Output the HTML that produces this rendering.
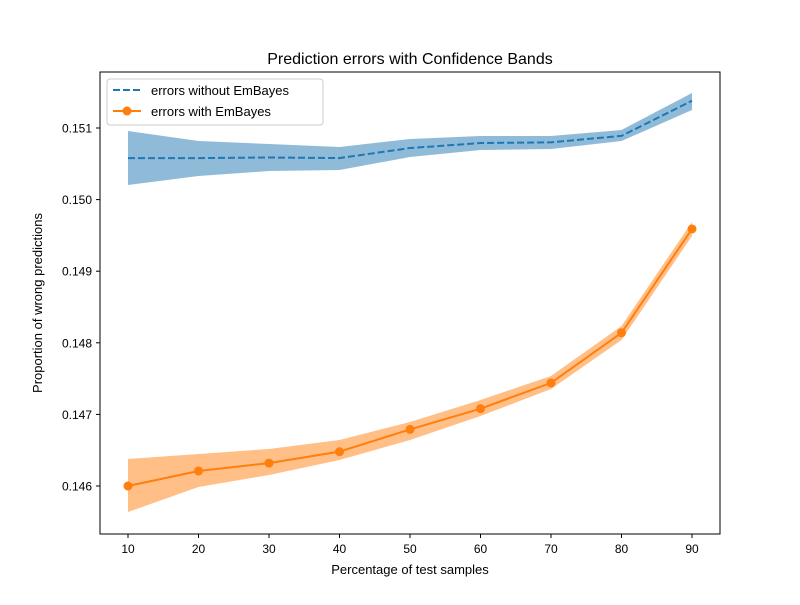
<!DOCTYPE html>
<html><head><meta charset="utf-8"><style>
body{margin:0;background:#fff}
svg text{font-family:"Liberation Sans","DejaVu Sans",sans-serif;fill:#000}
</style></head><body>
<svg id="chart" width="800" height="600" xmlns="http://www.w3.org/2000/svg">
<rect width="800" height="600" fill="#fff"/>
<text x="410" y="64" font-size="16" text-anchor="middle">Prediction errors with Confidence Bands</text>
<g id="plot"></g>
<rect x="100" y="72" width="620" height="462" fill="none" stroke="#000" stroke-width="1"/>
<g id="xticks"></g><g id="yticks"></g>
<text x="410" y="574" font-size="13" text-anchor="middle">Percentage of test samples</text>
<text x="0" y="0" font-size="13" text-anchor="middle" transform="translate(42,303) rotate(-90)">Proportion of wrong predictions</text>
<g>
<rect x="107" y="79" width="216" height="46" rx="3" fill="#fff" fill-opacity="0.8" stroke="#ccc"/>
<g>
<line x1="113" y1="90" x2="141" y2="90" stroke="#1f77b4" stroke-width="2" stroke-dasharray="7,3"/>
<text x="151" y="95" font-size="13">errors without EmBayes</text></g>
<g>
<line x1="113" y1="111" x2="141" y2="111" stroke="#ff7f0e" stroke-width="2"/>
<circle cx="127" cy="111" r="4.5" fill="#ff7f0e"/>
<text x="151" y="116" font-size="13">errors with EmBayes</text></g>
</g>
</svg>
<script>
const categories=[10,20,30,40,50,60,70,80,90];
const withoutMean=[0.15058,0.15058,0.150588,0.15058,0.15072,0.15079,0.1508,0.15089,0.15138];
const withoutUpper=[0.150958,0.150818,0.150777,0.150735,0.150846,0.150888,0.150888,0.150972,0.151489];
const withoutLower=[0.150204,0.15033,0.150399,0.150413,0.150595,0.150693,0.150707,0.150818,0.151251];
const withMean=[0.146,0.14621,0.14632,0.14648,0.14679,0.14708,0.14744,0.14814,0.14959];
const withUpper=[0.146377,0.146447,0.146517,0.146642,0.146894,0.147201,0.147536,0.148235,0.149687];
const withLower=[0.145637,0.145986,0.146154,0.146363,0.146642,0.146978,0.147355,0.148039,0.149492];
const xTickLabels=[10,20,30,40,50,60,70,80,90];
const yTickValues=[0.146,0.147,0.148,0.149,0.150,0.151];
const NS="http://www.w3.org/2000/svg";
const xs=v=>128+(v-10)*(692-128)/80;
const ys=v=>128+(0.151-v)/0.001*71.6;
function mk(t,a,p){const e=document.createElementNS(NS,t);for(const k in a)e.setAttribute(k,a[k]);p.appendChild(e);return e;}
const plot=document.getElementById('plot');
function band(up,lo,col,name){
 let d=categories.map((c,i)=>(i?'L':'M')+xs(c)+','+ys(up[i])).join('');
 for(let i=categories.length-1;i>=0;i--)d+='L'+xs(categories[i])+','+ys(lo[i]);
 const p=mk('path',{d:d+'Z',fill:col,'fill-opacity':0.5,stroke:'none'},plot);
 
 
}
band(withoutUpper,withoutLower,'#1f77b4','band-without');
band(withUpper,withLower,'#ff7f0e','band-with');
const l1=mk('polyline',{points:categories.map((c,i)=>xs(c)+','+ys(withoutMean[i])).join(' '),fill:'none',stroke:'#1f77b4','stroke-width':2,'stroke-dasharray':'7,3'},plot);


const l2=mk('polyline',{points:categories.map((c,i)=>xs(c)+','+ys(withMean[i])).join(' '),fill:'none',stroke:'#ff7f0e','stroke-width':2},plot);


categories.forEach((c,i)=>{const m=mk('circle',{cx:xs(c),cy:ys(withMean[i]),r:4.5,fill:'#ff7f0e'},plot);
 
 });
const xt=document.getElementById('xticks');
xTickLabels.forEach(v=>{const g=mk('g',{},xt);
 
 
 mk('line',{x1:xs(v),x2:xs(v),y1:534,y2:538,stroke:'#000'},g);
 const t=mk('text',{x:xs(v),y:553,'font-size':12,'text-anchor':'middle'},g);t.textContent=v;});
const yt=document.getElementById('yticks');
yTickValues.forEach(v=>{const g=mk('g',{},yt);
 
 
 mk('line',{x1:96,x2:100,y1:ys(v),y2:ys(v),stroke:'#000'},g);
 const t=mk('text',{x:92,y:ys(v)+4.5,'font-size':12,'text-anchor':'end'},g);t.textContent=v.toFixed(3);});
</script>
</body></html>
